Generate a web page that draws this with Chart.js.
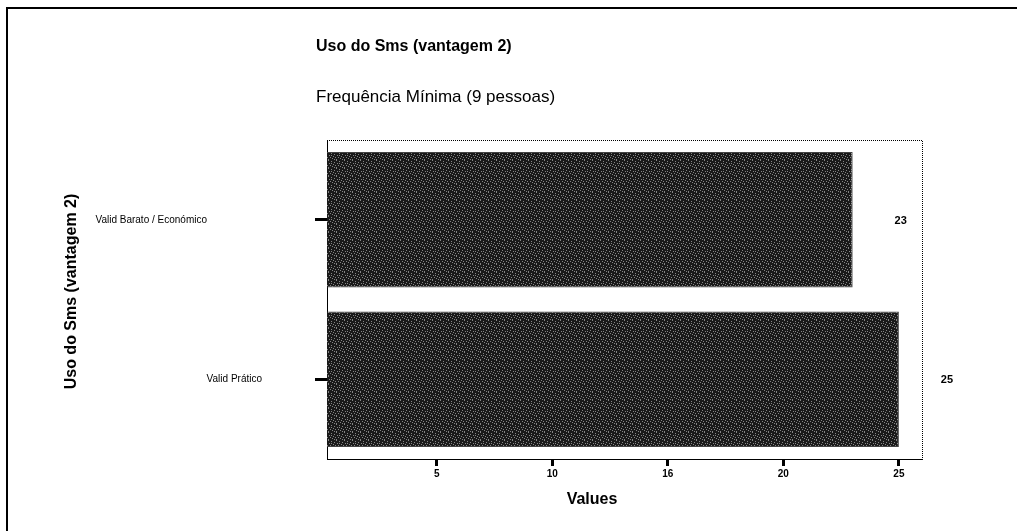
<!DOCTYPE html>
<html>
<head>
<meta charset="utf-8">
<script src="https://cdn.jsdelivr.net/npm/chart.js@4/dist/chart.umd.min.js"></script>
<style>
html,body{margin:0;padding:0;background:#fff;}
#wrap{width:1017px;height:531px;position:relative;}
</style>
</head>
<body>
<div id="wrap"><canvas id="c" width="1017" height="531"></canvas></div>
<script>
const categories = ["Valid Barato / Económico", "Valid Prático"];
const values = [23, 25];
const tickValues = [5, 10, 15, 20, 25];
const tickLabels = ["5", "10", "16", "20", "25"];
const chartTitle = "Uso do Sms (vantagem 2)";
const chartSubtitle = "Frequência Mínima (9 pessoas)";
const yTitle = "Uso do Sms (vantagem 2)";
const xTitle = "Values";

const FONT = '"Liberation Sans", Arial, sans-serif';

// deterministic dark speckled fill
function makePattern() {
  const p = document.createElement('canvas');
  p.width = 8; p.height = 8;
  const g = p.getContext('2d');
  g.fillStyle = '#1a1a1a';
  g.fillRect(0, 0, 8, 8);
  g.fillStyle = '#858585';
  const dots = [[0,0],[3,1],[6,2],[1,3],[5,4],[2,5],[7,5],[4,6],[0,7],[6,7],[3,3]];
  dots.forEach(d => g.fillRect(d[0], d[1], 1, 1));
  const ctx = document.createElement('canvas').getContext('2d');
  return ctx.createPattern(p, 'repeat');
}

const decor = {
  id: 'decor',
  afterDraw(chart) {
    const ctx = chart.ctx;
    const a = chart.chartArea;
    ctx.save();
    // outer frame
    ctx.strokeStyle = '#000';
    ctx.lineWidth = 2;
    ctx.beginPath();
    ctx.moveTo(7, 531);
    ctx.lineTo(7, 8);
    ctx.lineTo(1017, 8);
    ctx.stroke();
    // dotted top/right plot border
    ctx.lineWidth = 1;
    ctx.setLineDash([1, 1]);
    ctx.beginPath();
    ctx.moveTo(a.left, a.top + 0.5);
    ctx.lineTo(a.right + 0.5, a.top + 0.5);
    ctx.lineTo(a.right + 0.5, a.bottom);
    ctx.stroke();
    ctx.setLineDash([]);
    // titles
    ctx.fillStyle = '#000';
    ctx.textBaseline = 'middle';
    ctx.textAlign = 'left';
    ctx.font = 'bold 16px ' + FONT;
    ctx.fillText(chartTitle, 316, 47);
    ctx.font = '17px ' + FONT;
    ctx.fillText(chartSubtitle, 316, 97);
    // x title
    ctx.textAlign = 'center';
    ctx.font = 'bold 16px ' + FONT;
    ctx.fillText(xTitle, 592, 500);
    // y title
    ctx.save();
    ctx.translate(72, (a.top + a.bottom) / 2 - 8);
    ctx.rotate(-Math.PI / 2);
    ctx.font = 'bold 16px ' + FONT;
    ctx.fillText(yTitle, 0, 0);
    ctx.restore();
    // category labels
    const ys = chart.scales.y;
    ctx.font = '10px ' + FONT;
    ctx.textAlign = 'right';
    const rights = [207, 262];
    categories.forEach((c, i) => {
      ctx.fillText(c, rights[i], ys.getPixelForValue(i));
    });
    // value labels
    ctx.textAlign = 'center';
    ctx.font = 'bold 11px ' + FONT;
    const meta = chart.getDatasetMeta(0);
    meta.data.forEach((bar, i) => {
      ctx.fillText(String(values[i]), bar.x + 48, bar.y + 1);
    });
    ctx.restore();
  }
};

new Chart(document.getElementById('c'), {
  type: 'bar',
  data: {
    labels: categories,
    datasets: [{
      data: values,
      backgroundColor: makePattern(),
      borderColor: '#444',
      borderWidth: 1,
      borderSkipped: false,
      categoryPercentage: 1,
      barPercentage: 0.85
    }]
  },
  options: {
    indexAxis: 'y',
    responsive: false,
    animation: false,
    layout: { padding: { top: 140, right: 95, left: 0, bottom: 0 } },
    plugins: { legend: { display: false }, tooltip: { enabled: false }, title: { display: false } },
    scales: {
      x: {
        min: 0.25,
        max: 26,
        afterFit(s) { s.height = 72; },
        afterBuildTicks(s) { s.ticks = tickValues.map(v => ({ value: v })); },
        ticks: {
          color: '#000',
          font: { family: FONT, size: 10, weight: 'bold' },
          padding: 2,
          maxRotation: 0,
          callback(v) { const i = tickValues.indexOf(v); return i >= 0 ? tickLabels[i] : ''; }
        },
        grid: {
          drawOnChartArea: false,
          drawTicks: true,
          tickLength: 7,
          tickWidth: 3,
          tickColor: '#000'
        },
        border: { display: true, color: '#000', width: 1 }
      },
      y: {
        afterFit(s) { s.width = 327; },
        ticks: { display: false },
        grid: {
          offset: false,
          drawOnChartArea: false,
          drawTicks: true,
          tickLength: 12,
          tickWidth: 3,
          tickColor: '#000'
        },
        border: { display: true, color: '#000', width: 1 }
      }
    }
  },
  plugins: [decor]
});
</script>
</body>
</html>
